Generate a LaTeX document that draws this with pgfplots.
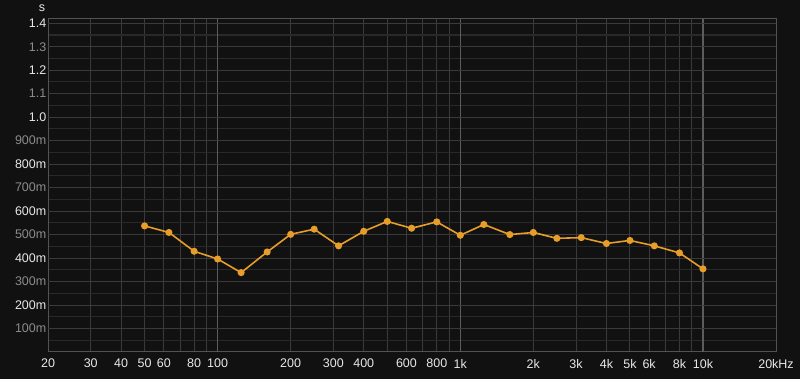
\documentclass[border=0pt]{standalone}
\usepackage{fontspec}
\setmainfont{Liberation Sans}
\usepackage{pgfplots}
\pgfplotsset{compat=1.18}
\definecolor{bg}{HTML}{111111}
\definecolor{gridc}{HTML}{3A3A3A}
\definecolor{gridh}{HTML}{3A3A3A}
\definecolor{gridminor}{HTML}{292929}
\definecolor{griddec}{HTML}{5C5C5C}
\definecolor{axc}{HTML}{525252}
\definecolor{labw}{HTML}{E8E8E8}
\definecolor{labg}{HTML}{8C8C8C}
\definecolor{lineo}{HTML}{E69D29}
\begin{document}
\begin{tikzpicture}[x=1pt,y=1pt]
\fill[bg] (-48,-27) rectangle (752,360);
\begin{axis}[
  at={(0,0)}, anchor=south west,
  scale only axis, width=728pt, height=333pt,
  xmode=log, xmin=20, xmax=20000, ymin=0, ymax=1.418,
  axis line style={draw=axc, line width=1pt},
  major tick length=0pt, minor tick length=0pt,
  tick style={draw=none},
  xmajorgrids, xminorgrids, ymajorgrids,
  x grid style={draw=gridc, line width=1pt},
  y grid style={draw=gridminor, line width=1.1pt},
  minor x grid style={draw=gridc, line width=1pt},
  xtick={20,30,40,50,60,80,200,300,400,600,800,2000,3000,4000,5000,6000,8000,20000},
  xticklabels={20,30,40,50,60,80,200,300,400,600,800,2k,3k,4k,5k,6k,8k,20kHz},
  minor xtick={70,90,500,700,900,7000,9000},
  extra x ticks={100,1000,10000},
  extra x tick labels={100,1k,10k},
  extra x tick style={grid=major, major x grid style={draw=griddec, line width=1.1pt}},
  ytick={0.05,0.15,0.25,0.35,0.45,0.55,0.65,0.75,0.85,0.95,1.05,1.15,1.25,1.35},
  yticklabels={},
  extra y ticks={0.1,0.2,0.3,0.4,0.5,0.6,0.7,0.8,0.9,1.0,1.1,1.2,1.3,1.4},
  extra y tick labels={\textcolor{labg}{100m},200m,\textcolor{labg}{300m},400m,\textcolor{labg}{500m},600m,\textcolor{labg}{700m},800m,\textcolor{labg}{900m},1.0,\textcolor{labg}{1.1},1.2,\textcolor{labg}{1.3},1.4},
  extra y tick style={grid=major, major y grid style={draw=gridh, line width=1pt}},
  ticklabel style={font=\fontsize{12.5}{14}\selectfont, text=labw},
  yticklabel style={inner sep=1.5pt},
  xticklabel style={inner sep=0pt, yshift=-7pt},
  clip=false,
]
\addplot[color=lineo, line width=1.6pt, mark=*, mark size=2.7pt, mark options={fill=lineo, draw=lineo}] coordinates {
(50,0.537) (63,0.509) (80,0.429) (100,0.396) (125,0.338) (160,0.426)
(200,0.501) (250,0.523) (315,0.452) (400,0.514) (500,0.556) (630,0.527)
(800,0.554) (1000,0.497) (1250,0.543) (1600,0.500) (2000,0.509) (2500,0.484)
(3150,0.487) (4000,0.462) (5000,0.475) (6300,0.452) (8000,0.422) (10000,0.354)
};
\node[text=labw, font=\fontsize{12.5}{14}\selectfont] at ([xshift=-6pt, yshift=11pt]rel axis cs:0,1) {s};
\end{axis}
\pgfresetboundingbox
\useasboundingbox (-48,-27) rectangle (752,352);
\end{tikzpicture}
\end{document}
